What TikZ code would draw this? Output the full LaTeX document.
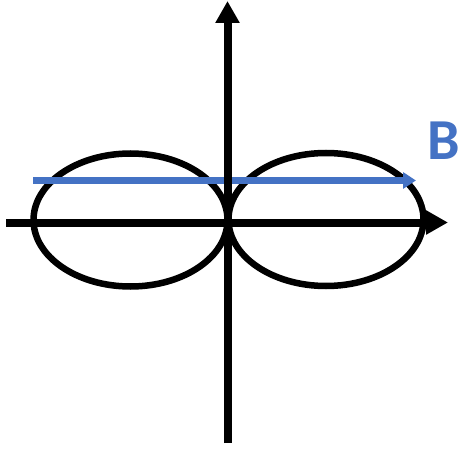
\documentclass[tikz,border=0pt]{standalone}
\usepackage{fontspec}
\newfontfamily\labelfont{Carlito}
\usetikzlibrary{arrows.meta}
\definecolor{fieldblue}{RGB}{68,114,196}
\begin{document}
\begin{tikzpicture}[x=1pt,y=-1pt,
  axisline/.style={line width=8pt,-{Triangle[width=23pt,length=22pt]}},
  loopline/.style={line width=6.5pt},
  fieldline/.style={line width=7pt,fieldblue,-{Triangle[width=16pt,length=13pt]}},
  blabel/.style={font=\labelfont\bfseries\fontsize{58}{58}\selectfont,text=fieldblue,inner sep=0pt,anchor=base west}]
\useasboundingbox (0,0) rectangle (460,449);
\coordinate (ybot) at (227.5,443);
\coordinate (ytop) at (227.5,1);
\coordinate (xleft) at (6,222.5);
\coordinate (xright) at (448,222.5);
\coordinate (bleft) at (33,180.5);
\coordinate (bright) at (416,180.5);
\draw[loopline] (130.5,220) ellipse [x radius=97, y radius=66.5];
\draw[loopline] (326,219.5) ellipse [x radius=97.5, y radius=66.5];
\draw[fieldline] (bleft) -- (bright);
\draw[axisline] (xleft) -- (xright);
\draw[axisline] (ybot) -- (ytop);
\node[blabel] (B) at (427,160) {B};
\end{tikzpicture}
\end{document}
